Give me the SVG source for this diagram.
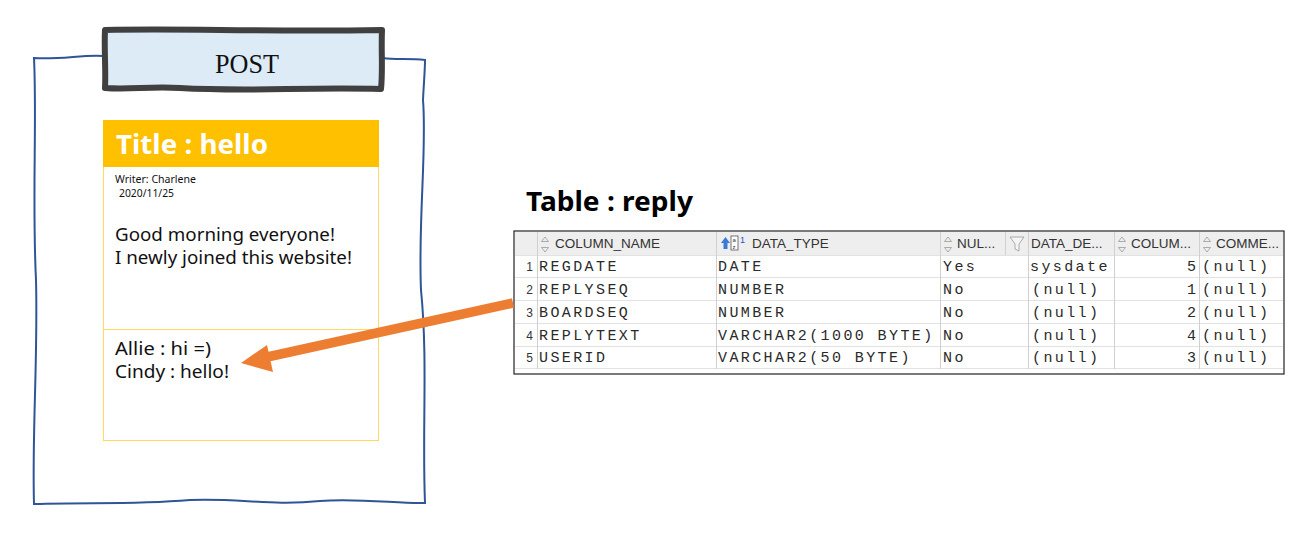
<svg xmlns="http://www.w3.org/2000/svg" width="1312" height="538" viewBox="0 0 1312 538">
<style>
.sans{font-family:"Noto Sans","Open Sans","Liberation Sans",sans-serif}
.mono{font-family:"Liberation Mono","Courier New",monospace;font-size:15px;letter-spacing:2.4px;fill:#2a2a2a}
.hdr{font-family:"Liberation Sans",Arial,sans-serif;font-size:13.5px;fill:#333}
.rn{font-family:"Liberation Sans",Arial,sans-serif;font-size:12px;fill:#333;text-anchor:end}
.grid{stroke:#e2e2e2;stroke-width:1}
.vsep{stroke:#d0d0d0;stroke-width:1}
.icon{fill:none;stroke:#999;stroke-width:0.8}
</style>
<rect width="1312" height="538" fill="#fff"/>
<g id="frame">
<path d="M104,56 C85,54 60,60 34,58 C37,120 32,200 36,280 C38,360 32,430 34,504 C90,502 130,505 190,500 C240,498 270,506 320,501 C360,498 400,504 425,503 C422,430 428,360 421,290 C418,220 427,150 423,100 C424,80 425,70 425,60 C410,58 395,60 383,58" fill="none" stroke="#2F5597" stroke-width="2"/>
</g>
<g id="post-title">
<path d="M105,30 C180,28 260,32 382,30 C381,50 383,70 381,89 C300,87 250,92 180,88 C150,86 130,90 105,88 C106,70 104,50 105,30 Z" fill="#DDEBF7" stroke="#404040" stroke-width="6" stroke-linejoin="round"/>
<text x="247" y="73" font-family="'Liberation Serif','DejaVu Serif',serif" font-size="28" text-anchor="middle" fill="#111" textLength="64" lengthAdjust="spacingAndGlyphs">POST</text>
</g>
<g id="post-card">
<rect x="103.5" y="120.5" width="275" height="320" fill="#fff" stroke="#FFD966" stroke-width="1"/>
<rect x="103" y="120" width="276" height="47" fill="#FFC000"/>
<text x="116" y="154" class="sans" font-size="27" font-weight="bold" fill="#fff" textLength="152" lengthAdjust="spacingAndGlyphs">Title : hello</text>
<text x="115" y="183" class="sans" font-size="10.5" fill="#111" textLength="81" lengthAdjust="spacingAndGlyphs">Writer: Charlene</text>
<text x="119" y="197" class="sans" font-size="10.5" fill="#111" textLength="55" lengthAdjust="spacingAndGlyphs">2020/11/25</text>
<text x="115" y="241" class="sans" font-size="18.5" fill="#111" textLength="220" lengthAdjust="spacingAndGlyphs">Good morning everyone!</text>
<text x="115" y="264" class="sans" font-size="18.5" fill="#111" textLength="237" lengthAdjust="spacingAndGlyphs">I newly joined this website!</text>
<line x1="103" y1="329.5" x2="379" y2="329.5" stroke="#FFD966" stroke-width="1"/>
<text x="115" y="355" class="sans" font-size="18" fill="#111" textLength="96" lengthAdjust="spacingAndGlyphs">Allie : hi  =)</text>
<text x="115" y="378" class="sans" font-size="18" fill="#111" textLength="114" lengthAdjust="spacingAndGlyphs">Cindy : hello!</text>
</g>
<g id="table-reply">
<text x="526" y="211" class="sans" font-size="27" font-weight="bold" fill="#000" textLength="167" lengthAdjust="spacingAndGlyphs">Table : reply</text>
<rect x="514" y="231" width="770" height="143" fill="#fff"/>
<rect x="515" y="232" width="768" height="23" fill="#EEEEEE"/>
<g class="grid">
<line x1="515" y1="255.5" x2="1283" y2="255.5"/>
<line x1="515" y1="277.5" x2="1283" y2="277.5"/>
<line x1="515" y1="300.5" x2="1283" y2="300.5"/>
<line x1="515" y1="323.5" x2="1283" y2="323.5"/>
<line x1="515" y1="346.5" x2="1283" y2="346.5"/>
<line x1="515" y1="368.5" x2="1283" y2="368.5"/>
</g>
<g class="vsep">
<line x1="537.5" y1="232" x2="537.5" y2="369"/>
<line x1="716.5" y1="232" x2="716.5" y2="369"/>
<line x1="940.5" y1="232" x2="940.5" y2="369"/>
<line x1="1005.5" y1="232" x2="1005.5" y2="255"/>
<line x1="1028.5" y1="232" x2="1028.5" y2="369"/>
<line x1="1114.5" y1="232" x2="1114.5" y2="369"/>
<line x1="1199.5" y1="232" x2="1199.5" y2="369"/>
</g>
<rect x="514" y="231" width="770" height="143" fill="none" stroke="#222" stroke-width="1.2"/>
<g id="header-icons">
<path class="icon" d="M545,237 l-3.5,4.5 h7 z M545,252 l-3.5,-4.5 h7 z"/>
<path class="icon" d="M948,237 l-3.5,4.5 h7 z M948,252 l-3.5,-4.5 h7 z"/>
<path class="icon" d="M1122,237 l-3.5,4.5 h7 z M1122,252 l-3.5,-4.5 h7 z"/>
<path class="icon" d="M1207,237 l-3.5,4.5 h7 z M1207,252 l-3.5,-4.5 h7 z"/>
<path d="M1010,237 h14 l-5,7 v7 l-4,-2 v-5 z" fill="#f4f4f4" stroke="#999" stroke-width="0.8"/>
<path d="M721,243 l4.5,-6 l4.5,6 h-2.5 v6 h-4 v-6 z" fill="#3a7bd5"/>
<rect x="731" y="236" width="7" height="14" fill="#fff" stroke="#555" stroke-width="0.8"/>
<text x="732.5" y="242" font-family="Liberation Sans,sans-serif" font-size="6" fill="#333">a</text>
<text x="732.5" y="249" font-family="Liberation Sans,sans-serif" font-size="6" fill="#333">z</text>
<text x="740" y="243" font-family="Liberation Sans,sans-serif" font-size="9" fill="#2255cc">1</text>
</g>
<text x="555" y="248" class="hdr">COLUMN_NAME</text>
<text x="752" y="248" class="hdr">DATA_TYPE</text>
<text x="957" y="248" class="hdr">NUL...</text>
<text x="1031" y="248" class="hdr">DATA_DE...</text>
<text x="1131" y="248" class="hdr">COLUM...</text>
<text x="1216" y="248" class="hdr">COMME...</text>
<text x="533" y="271" class="rn">1</text>
<text x="533" y="294" class="rn">2</text>
<text x="533" y="317" class="rn">3</text>
<text x="533" y="340" class="rn">4</text>
<text x="533" y="362" class="rn">5</text>
<g class="mono">
<text x="539" y="271">REGDATE</text>
<text x="539" y="294">REPLYSEQ</text>
<text x="539" y="317">BOARDSEQ</text>
<text x="539" y="340">REPLYTEXT</text>
<text x="539" y="362">USERID</text>
<text x="718" y="271">DATE</text>
<text x="718" y="294">NUMBER</text>
<text x="718" y="317">NUMBER</text>
<text x="718" y="340">VARCHAR2(1000 BYTE)</text>
<text x="718" y="362">VARCHAR2(50 BYTE)</text>
<text x="943" y="271">Yes</text>
<text x="943" y="294">No</text>
<text x="943" y="317">No</text>
<text x="943" y="340">No</text>
<text x="943" y="362">No</text>
<text x="1030" y="271">sysdate</text>
<text x="1032" y="294">(null)</text>
<text x="1032" y="317">(null)</text>
<text x="1032" y="340">(null)</text>
<text x="1032" y="362">(null)</text>
<text x="1187" y="271">5</text>
<text x="1187" y="294">1</text>
<text x="1187" y="317">2</text>
<text x="1187" y="340">4</text>
<text x="1187" y="362">3</text>
<text x="1202" y="271">(null)</text>
<text x="1202" y="294">(null)</text>
<text x="1202" y="317">(null)</text>
<text x="1202" y="340">(null)</text>
<text x="1202" y="362">(null)</text>
</g>
</g>
<g id="connectors">
<line x1="513" y1="303" x2="265" y2="357.5" stroke="#ED7D31" stroke-width="9.5"/>
<polygon points="241,363 267,345 273,372" fill="#ED7D31"/>
</g>
</svg>
